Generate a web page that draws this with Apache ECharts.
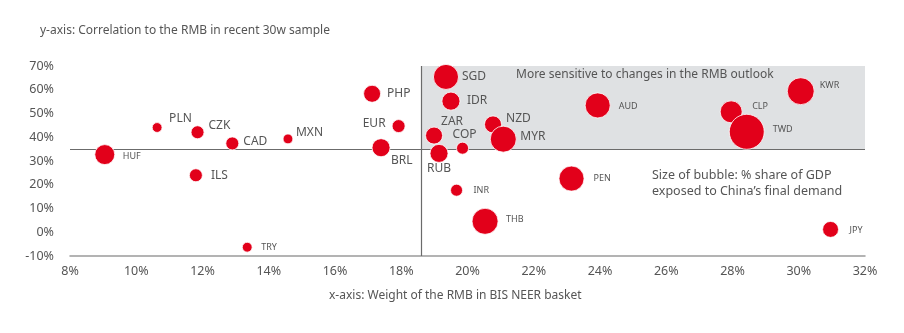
<!DOCTYPE html>
<html>
<head>
<meta charset="utf-8">
<script src="https://cdn.jsdelivr.net/npm/echarts@6/dist/echarts.min.js"></script>
<style>
html,body{margin:0;padding:0;background:#fff;}
#c{width:904px;height:333px;}
</style>
</head>
<body>
<div id="c"></div>
<script>
// Data
var currencies = ['HUF','PLN','CZK','CAD','MXN','ILS','TRY','PHP','EUR','BRL','SGD','IDR','ZAR','RUB','COP','NZD','MYR','INR','THB','PEN','AUD','CLP','TWD','KWR','JPY'];
var rmbWeight  = [9.05, 10.63, 11.85, 12.9, 14.58, 11.8, 13.35, 17.12, 17.92, 17.39, 19.35, 19.5, 18.99, 19.14, 19.85, 20.77, 21.08, 19.67, 20.53, 23.14, 23.93, 27.96, 28.43, 30.06, 30.96];
var rmbCorr    = [32.7, 44.1, 42.1, 37.4, 39.3, 24.0, -6.3, 58.3, 44.7, 35.6, 65.4, 55.2, 40.7, 33.2, 35.4, 45.4, 39.2, 17.7, 4.6, 22.6, 53.4, 50.7, 42.3, 59.4, 1.2];
var gdpShare   = [3.3, 0.8, 1.4, 1.4, 0.8, 1.4, 0.8, 2.4, 1.4, 2.7, 5.2, 2.7, 2.4, 2.7, 1.2, 2.4, 5.6, 1.2, 5.6, 5.2, 5.2, 4.0, 10.1, 6.0, 2.1];
var xTicks = [8, 32, 2];
var yTicks = [-10, 70, 10];
var refX = 18.6, refY = 35;

// label styling (not data)
var labelCfg = {
  HUF:{a:'left',dx:18,dy:2,s:0}, PLN:{a:'left',dx:12,dy:-9,s:1}, CZK:{a:'left',dx:11,dy:-7,s:1},
  CAD:{a:'left',dx:11,dy:-2,s:1}, MXN:{a:'left',dx:8,dy:-6,s:1}, ILS:{a:'left',dx:15,dy:0,s:1},
  TRY:{a:'left',dx:14,dy:0,s:0}, PHP:{a:'left',dx:15,dy:0,s:1}, EUR:{a:'right',dx:-13,dy:-3,s:1},
  BRL:{a:'left',dx:10,dy:13,s:1}, SGD:{a:'left',dx:16,dy:0,s:1}, IDR:{a:'left',dx:16,dy:-1,s:1},
  ZAR:{a:'left',dx:7,dy:-14,s:1}, RUB:{a:'center',dx:0,dy:15,s:1}, COP:{a:'center',dx:2,dy:-14,s:1},
  NZD:{a:'left',dx:13,dy:-6,s:1}, MYR:{a:'left',dx:17,dy:-3,s:1}, INR:{a:'left',dx:17,dy:0,s:0},
  THB:{a:'left',dx:21,dy:-2,s:0}, PEN:{a:'left',dx:22,dy:0,s:0}, AUD:{a:'left',dx:21,dy:1,s:0},
  CLP:{a:'left',dx:21,dy:-5,s:0}, TWD:{a:'left',dx:26,dy:-2,s:0}, KWR:{a:'left',dx:19,dy:-6,s:0},
  JPY:{a:'left',dx:19,dy:1,s:0}
};

var FONT = '"Noto Sans", "Open Sans", sans-serif';
var TXT = '#555555';

var points = currencies.map(function(n,i){
  var c = labelCfg[n];
  return {
    name: n,
    value: [rmbWeight[i], rmbCorr[i], gdpShare[i]],
    label: {
      show: true, position: 'inside', formatter: n,
      align: c.a, verticalAlign: 'middle', offset: [c.dx, c.dy],
      fontSize: c.s ? 12 : 9, color: TXT, fontFamily: FONT
    }
  };
});

var chart = echarts.init(document.getElementById('c'), null, {renderer:'canvas'});
chart.setOption({
  animation: false,
  grid: {left: 70, right: 39, top: 66, bottom: 77},
  xAxis: {
    type: 'value', min: xTicks[0], max: xTicks[1], interval: xTicks[2],
    axisLine: {show: true, onZero: false, lineStyle: {color: '#9a9a9a', width: 1.5}},
    axisTick: {show: false}, splitLine: {show: false},
    axisLabel: {formatter: '{value}%', color: TXT, fontSize: 12.5, fontFamily: FONT, margin: 9}
  },
  yAxis: {
    type: 'value', min: yTicks[0], max: yTicks[1], interval: yTicks[2],
    axisLine: {show: false}, axisTick: {show: false}, splitLine: {show: false},
    axisLabel: {formatter: '{value}%', color: TXT, fontSize: 12.5, fontFamily: FONT, margin: 16}
  },
  graphic: [
    {type:'text', left: 40, top: 25, style:{text:'y-axis: Correlation to the RMB in recent 30w sample', fill: TXT, font: '12px ' + FONT}},
    {type:'text', left: 329, top: 290, style:{text:'x-axis: Weight of the RMB in BIS NEER basket', fill: TXT, font: '12px ' + FONT}},
    {type:'text', left: 516, top: 69, z: 10, style:{text:'More sensitive to changes in the RMB outlook', fill: TXT, font: '12px ' + FONT}},
    {type:'text', left: 652, top: 167, z: 10, style:{text:'Size of bubble: % share of GDP\nexposed to China\u2019s final demand', fill: TXT, font: '12.5px ' + FONT, lineHeight: 16}}
  ],
  series: [{
    type: 'scatter',
    data: points,
    symbolSize: function(v){ return Math.sqrt(v[2]) * 11; },
    itemStyle: {color: '#e2001a', borderColor: '#ffffff', borderWidth: 0.8, opacity: 1},
    z: 5,
    markArea: {
      silent: true,
      itemStyle: {color: '#dfe1e3'},
      data: [[{coord: [refX, refY]}, {coord: [xTicks[1], yTicks[1]]}]]
    },
    markLine: {
      silent: true, symbol: 'none', label: {show: false},
      lineStyle: {color: '#6b6b6b', width: 1.2, type: 'solid'},
      data: [
        [{coord: [xTicks[0], refY]}, {coord: [xTicks[1], refY]}],
        [{coord: [refX, yTicks[0]]}, {coord: [refX, yTicks[1]]}]
      ]
    }
  }]
});
</script>
</body>
</html>
